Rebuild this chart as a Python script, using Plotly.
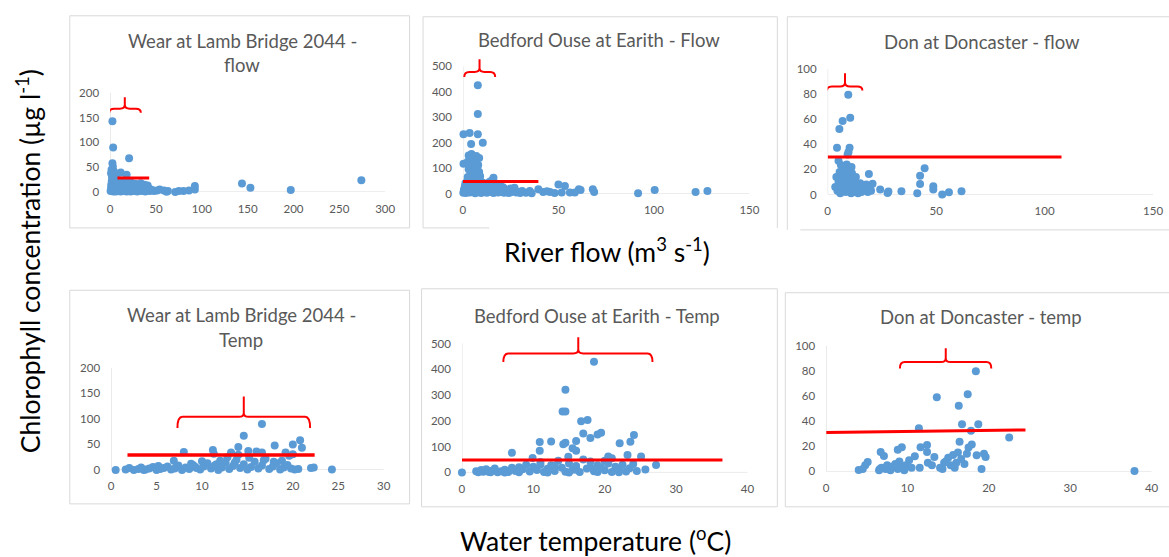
import plotly.graph_objects as go

W, H = 1169, 557

# ---------------- data ----------------
# Wear at Lamb Bridge 2044 - flow
wear_flow_x = [2.5, 3.3, 20.7, 2.5, 3, 1.5, 4, 11.6, 18, 2, 6, 1,
               51.4, 54, 58.7, 61.6, 63, 71, 75, 80, 86, 92.4, 92.4, 143.8, 153, 197, 274, 46, 48,
               0.5, 1, 1.2, 1.8, 2, 2.2, 2.6, 3, 3.4, 3.8, 4.2, 4.5, 5, 5.3, 5.8, 6.2, 6.6, 7, 7.4, 7.9,
               8.3, 8.8, 9.2, 9.7, 10.2, 10.6, 11.1, 11.5, 12, 12.6, 13.1, 13.5, 14.1, 14.6, 15.2, 15.8,
               16.3, 16.9, 17.4, 18, 18.6, 19.2, 19.8, 20.5, 21.1, 21.8, 22.4, 23, 23.7, 24.3, 25, 25.8,
               26.5, 27.3, 28, 28.8, 29.5, 30.3, 31, 31.8, 32.6, 33.4, 34.2, 35, 35.9, 36.7, 37.5, 38.4,
               39.2, 40, 40.9, 41.7, 42.6, 43.5, 44.3]
wear_flow_y = [142.6, 89.8, 68, 58, 51, 45, 42, 39.6, 35, 33, 30, 38,
               3, 5, 3, 0.5, 2, 0, 2, 2, 3, 12, 5.3, 17.2, 8.6, 4, 23.8, 4, 2,
               2, 8, 15, 22, 4, 27, 11, 18, 1, 6, 24, 13, 3, 9, 19, 1, 14, 5, 21, 10,
               2, 16, 7, 24, 3, 12, 18, 1, 8, 22, 5, 14, 2, 10, 17, 4,
               25, 8, 13, 1, 6, 20, 11, 3, 15, 7, 1, 19, 10, 4, 13, 2,
               8, 17, 5, 11, 1, 14, 6, 3, 10, 18, 2, 7, 12, 4, 15, 1,
               9, 5, 13, 3, 7, 2, 4]

# Bedford Ouse at Earith - Flow
bedford_flow_x = [7.8, 7.8, 0.3, 3.5, 7.8, 4.3, 10.4, 0.3, 3, 4.5, 6, 7, 8.5, 5, 2.5, 6.5, 8, 4, 7.5, 3,
                  5.5, 8.5, 4, 6.5, 9, 2.5, 16, 15, 27,
                  31, 35, 39.5, 42, 45.6, 50, 53.4, 51.7, 56, 58.6, 60.7, 61.6, 68, 68.7, 91.7, 100.4,
                  121.8, 128, 30, 36, 25, 33, 44, 48,
                  0.2, 0.5, 0.8, 1, 1.3, 1.6, 2, 2.4, 2.8, 3.2, 3.6, 4, 4.4, 4.8, 5.2, 5.6, 6, 6.4, 6.8,
                  7.2, 7.6, 8, 8.4, 8.8, 9.2, 9.6, 10, 10.5, 11, 11.5, 12, 12.5, 13, 13.5, 14, 14.5, 15,
                  15.5, 16, 16.5, 17, 17.5, 18, 18.5, 19, 19.5, 20, 20.5, 21, 21.5, 22, 22.5, 23, 23.5,
                  24, 25, 26, 27, 28, 29]
bedford_flow_y = [426, 313, 233, 238, 233, 195, 200, 117, 150, 155, 145, 148, 140, 130, 125, 120, 112, 105,
                  100, 95, 90, 85, 78, 72, 68, 65, 62, 50, 23,
                  10, 10, 17, 6, 6, 36, 30, 4, 4, 4, 17, 14, 17, 6, 1, 14,
                  6, 10, 2, 1, 5, 3, 9, 2,
                  3, 15, 8, 28, 40, 2, 20, 52, 10, 33, 4, 45, 18, 58, 7, 26, 38, 1, 14,
                  48, 22, 5, 31, 55, 12, 2, 25, 42, 8, 18, 35, 3, 12, 28, 46, 6, 20,
                  38, 2, 15, 30, 9, 22, 4, 16, 33, 7, 12, 25, 3, 18, 10, 5, 14,
                  2, 20, 8, 12, 4, 7]

# Don at Doncaster - flow
don_flow_x = [9.5, 10.4, 6.9, 5.4, 4.3, 10.1, 9.6, 9.2, 5, 6.1, 8.4, 19, 20.7, 24.2, 27.6, 28, 34,
              41.3, 42.6, 42.6, 44.7, 48.7, 48.7, 52.8, 55.9, 61.7,
              3.5, 4, 4.5, 5, 5.5, 5.8, 6.2, 6.5, 7, 7.2, 7.6, 8, 8.3, 8.7, 9, 9.3, 9.7, 10, 10.3,
              10.8, 11.2, 11.6, 12, 12.5, 13, 13.4, 14, 14.5, 15, 15.6, 16.2, 17, 17.8, 18.5, 19.5,
              20, 8.8, 11, 6.8, 12.2]
don_flow_y = [79.6, 61.3, 58.7, 52.2, 37.3, 37.3, 34, 32, 27, 23.5, 22, 16.4, 8.6, 4, 1.3, 2.5, 2.6,
              1, 8.4, 14.9, 21, 6.5, 4, 0, 1.8, 2.6,
              6, 14, 3, 10, 18, 1, 7, 13, 4, 21, 9, 16, 2, 11, 6, 19, 3, 13, 8,
              1, 17, 5, 10, 3, 14, 7, 1, 5, 9, 2, 6, 4, 8, 2, 5,
              3, 24, 22, 16, 2]

# Wear at Lamb Bridge 2044 - Temp
wear_temp_x = [16.6, 14.6, 20.8, 20, 18, 14, 21, 11.2, 8, 13.2, 15.1, 16, 16.6, 19.2, 20, 11.3, 6.9,
               24.3, 22, 22.3, 0.5, 12, 17.9,
               1.6, 2, 2.5, 3, 3.3, 3.8, 4.2, 4.6, 5, 5.4, 5.8, 6.2, 6.6, 7, 7.4, 7.8, 8.2, 8.6, 9,
               9.4, 9.8, 10.2, 10.6, 11, 11.4, 11.8, 12.2, 12.6, 13, 13.4, 13.8, 14.2, 14.6, 15, 15.4,
               15.8, 16.2, 16.6, 17, 17.4, 17.8, 18.2, 18.6, 19, 19.4, 19.8, 20.2, 20.6, 5.2, 8.8, 10,
               12.8, 15.2, 16.8, 18.8, 19.6, 14, 3.6, 7.2, 11.6, 13.6, 9.2]
wear_temp_y = [90, 67, 58, 50, 48, 45, 43.5, 39, 35, 34, 37, 36, 34, 34, 30.7, 32, 18,
               1, 4, 5, 0, 18, 16,
               1, 4, 0, 2, 5, 1, 3, 6, 0, 2, 4, 7, 1, 3, 9, 0, 5, 2, 10,
               4, 1, 7, 13, 3, 9, 0, 5, 15, 2, 8, 20, 4, 11, 1, 6,
               16, 3, 9, 22, 2, 7, 13, 1, 5, 10, 3, 1, 2, 8, 12, 17,
               25, 24, 19, 18, 28, 30, 0, 6, 11, 14, 7]

# Bedford Ouse at Earith - Temp
bedford_temp_x = [18.5, 14.5, 14.1, 14.5, 16.7, 17.6, 17, 19, 19.5, 18, 24.1, 23.6, 22.1, 10.9, 12.5,
                  16, 14.2, 14.5, 7, 10.9, 15.5, 16, 23.2, 25.1, 9.9, 14.9, 20.5, 21, 27.2, 25.7, 0,
                  2, 2.3, 2.7, 3, 3.4, 3.8, 4.2, 4.6, 5, 5.5, 6, 6.5, 7, 7.5, 8, 8.5, 9, 9.5, 10, 10.5,
                  11, 11.5, 12, 12.5, 13, 13.5, 14, 14.5, 15, 15.5, 16, 16.5, 17, 17.5, 18, 18.5, 19,
                  19.5, 20, 20.5, 21, 21.5, 22, 22.5, 23, 23.5, 24, 24.5, 13, 16, 18, 20, 22, 12, 8, 15,
                  19, 11, 6, 4]
bedford_temp_y = [429, 321, 236, 236, 198, 203, 151, 147, 154, 134, 145, 119, 113, 118, 120,
                  122, 109, 115, 76, 84, 94, 84, 68, 62, 56, 61, 62, 55, 29, 11, 0,
                  5, 1, 9, 3, 12, 2, 7, 15, 1, 5, 10, 2, 18, 6, 1, 12, 30, 4, 22, 9,
                  40, 2, 14, 28, 6, 45, 18, 3, 35, 10, 25, 2, 50, 15, 42, 5, 28,
                  20, 8, 35, 2, 22, 12, 30, 4, 16, 33, 6, 25, 10, 20, 45, 1, 0, 20, 0,
                  2, 30, 0, 1]

# Don at Doncaster - temp
don_temp_x = [18.4, 17.4, 13.6, 16.3, 11.4, 16.7, 18.7, 17.8, 22.5, 16.4, 17.9, 17.5, 12.4, 11.6, 9.3,
              8.8, 12.4, 6.7, 7.1, 10.9, 18.5, 19.4, 19.6, 37.9, 19.1, 4, 4.5, 5.1, 4.8, 6.5, 6.8,
              7.3, 7.5, 7.9, 8.2, 8.5, 8.8, 9, 9.4, 9.8, 10.2, 10.5, 11.5, 12.5, 13, 13.3, 14, 14.3,
              14.7, 15, 15.3, 15.6, 16, 16.2, 16.6, 17, 17.3, 15.8, 14.5, 9.6, 8, 6.6]
don_temp_y = [79.7, 61.5, 59, 52.3, 34.4, 37.5, 37.5, 32.3, 27, 23.7, 21.4, 19, 21, 19.3, 19.3,
              17.2, 15.4, 15.4, 12.2, 12, 12.8, 14, 11.5, 0.3, 2, 1.2, 2, 7.5, 5, 1, 3,
              2, 5, 1, 4, 6, 2, 8, 3, 5, 9, 3, 3, 7, 5, 11.5, 3, 2,
              8, 11, 5, 13, 7, 15, 10, 6, 14, 3, 7, 1, 3, 2]

# threshold lines: (x0, x1, y0, y1)
red_lines = [(8, 42.6, 28.5, 28.5), (0, 39.5, 47, 47), (0, 107.8, 30, 30),
             (1.8, 22.4, 29.3, 29.3), (0, 36.5, 48.4, 48.4), (0, 24.5, 31, 33)]
# braces: (x0, x1, y_bar, x_tip, y_tip, y_hook)
braces = [(-1, 33.5, 168, 16, 191, 160), (0.7, 16.9, 478, 8.7, 528, 458),
          (-0.3, 16, 86.1, 8, 96.6, 83), (7.3, 21.9, 104, 14.6, 144, 82),
          (5.8, 26.7, 461, 16.3, 524, 428), (9.06, 20.3, 87, 14.7, 98, 82)]

titles = [["Wear at Lamb Bridge 2044 -", "flow"], ["Bedford Ouse at Earith - Flow"],
          ["Don at Doncaster - flow"], ["Wear at Lamb Bridge 2044 -", "Temp"],
          ["Bedford Ouse at Earith - Temp"], ["Don at Doncaster - temp"]]

xticks = [[0, 50, 100, 150, 200, 250, 300], [0, 50, 100, 150], [0, 50, 100, 150],
          [0, 5, 10, 15, 20, 25, 30], [0, 10, 20, 30, 40], [0, 10, 20, 30, 40]]
yticks = [[0, 50, 100, 150, 200], [0, 100, 200, 300, 400, 500], [0, 20, 40, 60, 80, 100],
          [0, 50, 100, 150, 200], [0, 100, 200, 300, 400, 500], [0, 20, 40, 60, 80, 100]]

series = [(wear_flow_x, wear_flow_y), (bedford_flow_x, bedford_flow_y), (don_flow_x, don_flow_y),
          (wear_temp_x, wear_temp_y), (bedford_temp_x, bedford_temp_y), (don_temp_x, don_temp_y)]

# ---------------- layout geometry (pixels) ----------------
# (px of v0, px of v1, v0, v1, range0, range1)
xgeo = [(107.5, 383.5, 0, 300, 0, 310), (461.5, 749, 0, 150, 0, 155), (827.5, 1154, 0, 150, 0, 155),
        (108.5, 382, 0, 30, 0, 31), (460.5, 747, 0, 40, 0, 41), (826, 1152.5, 0, 40, 0, 41)]
ygeo = [(191.5, 90.5, 0, 200, 0, 205), (193, 63.5, 0, 500, 0, 560), (194, 66.3, 0, 100, 0, 105),
        (474.5, 370.5, 0, 200, 0, 205), (477, 345.7, 0, 500, 0, 560), (476, 348, 0, 100, 0, 105)]
title_pos = [[(240, 38), (240, 62.5)], [(597.7, 36.7)], [(982, 38.3)],
             [(239, 316.7), (239, 341.7)], [(596, 317.3)], [(981.7, 319)]]

FONT = "Lato, 'Open Sans', sans-serif"
GRAY = "#595959"
BLUE = "#5B9BD5"
RED = "#FF0000"

fig = go.Figure()
layout = dict(width=W, height=H, margin=dict(l=0, r=0, t=0, b=0), paper_bgcolor="white",
              plot_bgcolor="rgba(0,0,0,0)", showlegend=False, font=dict(family=FONT, color=GRAY))
shapes = []
annotations = []

for i in range(6):
    n = i + 1
    xs, ys = series[i]
    xa = "x" if n == 1 else f"x{n}"
    ya = "y" if n == 1 else f"y{n}"
    fig.add_trace(go.Scatter(x=xs, y=ys, mode="markers", xaxis=xa, yaxis=ya, cliponaxis=False,
                             marker=dict(color=BLUE, size=8, line=dict(width=0)), hoverinfo="x+y"))
    pa, pb, va, vb, r0, r1 = xgeo[i]
    s = (pb - pa) / (vb - va)
    xdom = [(pa + (r0 - va) * s) / W, (pa + (r1 - va) * s) / W]
    qa, qb, wa, wb, t0, t1 = ygeo[i]
    sy = (qb - qa) / (wb - wa)
    ydom = [1 - (qa + (t0 - wa) * sy) / H, 1 - (qa + (t1 - wa) * sy) / H]
    axcommon = dict(showline=False, showgrid=False, zeroline=False, ticks="",
                    tickfont=dict(family=FONT, size=11.5, color=GRAY))
    layout["xaxis" if n == 1 else f"xaxis{n}"] = dict(domain=xdom, range=[r0, r1], anchor=ya,
                                                     tickvals=xticks[i], ticklabelstandoff=8, **axcommon)
    layout["yaxis" if n == 1 else f"yaxis{n}"] = dict(domain=ydom, range=[t0, t1], anchor=xa,
                                                     tickvals=yticks[i], ticklabelstandoff=10, **axcommon)
    # axis lines
    shapes.append(dict(type="line", xref=xa, yref=ya, x0=0, x1=xticks[i][-1], y0=0, y1=0,
                       line=dict(color="#D9D9D9", width=1), layer="below"))
    shapes.append(dict(type="line", xref=xa, yref=ya, x0=0, x1=0, y0=0, y1=yticks[i][-1],
                       line=dict(color="#D9D9D9", width=1), layer="below"))
    # red threshold line
    x0, x1, y0, y1 = red_lines[i]
    shapes.append(dict(type="line", xref=xa, yref=ya, x0=x0, x1=x1, y0=y0, y1=y1,
                       line=dict(color=RED, width=3 if i != 3 else 3.5)))
    # brace
    bx0, bx1, by, tx, ty, hy = braces[i]
    dx = 5 / abs(s)
    dy = 4 / abs(sy)
    p = (f"M {bx0},{hy} Q {bx0},{by} {bx0 + dx},{by} L {tx - dx},{by} Q {tx},{by} {tx},{by + dy} "
         f"L {tx},{ty} M {tx},{by + dy} Q {tx},{by} {tx + dx},{by} L {bx1 - dx},{by} "
         f"Q {bx1},{by} {bx1},{hy}")
    shapes.append(dict(type="path", xref=xa, yref=ya, path=p, line=dict(color=RED, width=2)))
    # titles
    for txt, (cx, cy) in zip(titles[i], title_pos[i]):
        annotations.append(dict(text=txt, xref="paper", yref="paper", x=cx / W, y=1 - cy / H,
                                xanchor="center", yanchor="middle", showarrow=False,
                                font=dict(family=FONT, size=18.5, color=GRAY)))

# panel borders (pixels)
def pline(x0, y0, x1, y1):
    shapes.append(dict(type="line", xref="paper", yref="paper", x0=x0 / W, x1=x1 / W,
                       y0=1 - y0 / H, y1=1 - y1 / H, line=dict(color="#D9D9D9", width=1), layer="below"))

boxes = [(67, 12, 408, 228), (421.5, 13, 777, 228), (787, 13, 1175, 230),
         (67, 291.5, 408, 509), (420, 290, 777, 512), (785, 294, 1175, 512)]
for k, (l, t, r, b) in enumerate(boxes):
    pline(l, t, r, t)
    pline(l, t, l, b)
    pline(r, t, r, b)
    if k == 1:
        pline(l, b, 488, b)
    elif k == 2:
        pline(800, b, r, b)
    else:
        pline(l, b, r, b)

BIG = 26.5
annotations.append(dict(text="Chlorophyll concentration (µg l<sup>-1</sup>)", xref="paper", yref="paper",
                        x=25 / W, y=1 - 262 / H, textangle=-90, showarrow=False, xanchor="center",
                        yanchor="middle", font=dict(family=FONT, size=BIG, color="#000000")))
annotations.append(dict(text="River flow (m<sup>3</sup> s<sup>-1</sup>)", xref="paper", yref="paper",
                        x=606 / W, y=1 - 251 / H, showarrow=False, xanchor="center", yanchor="middle",
                        font=dict(family=FONT, size=BIG, color="#000000")))
annotations.append(dict(text="Water temperature (<sup>o</sup>C)", xref="paper", yref="paper",
                        x=595 / W, y=1 - 545.5 / H, showarrow=False, xanchor="center", yanchor="middle",
                        font=dict(family=FONT, size=BIG, color="#000000")))

layout["shapes"] = shapes
layout["annotations"] = annotations
fig.update_layout(**layout)
fig.write_html("out.html", config={"displayModeBar": False},
               post_script="document.body.style.margin='0px';document.body.style.padding='0px';")
